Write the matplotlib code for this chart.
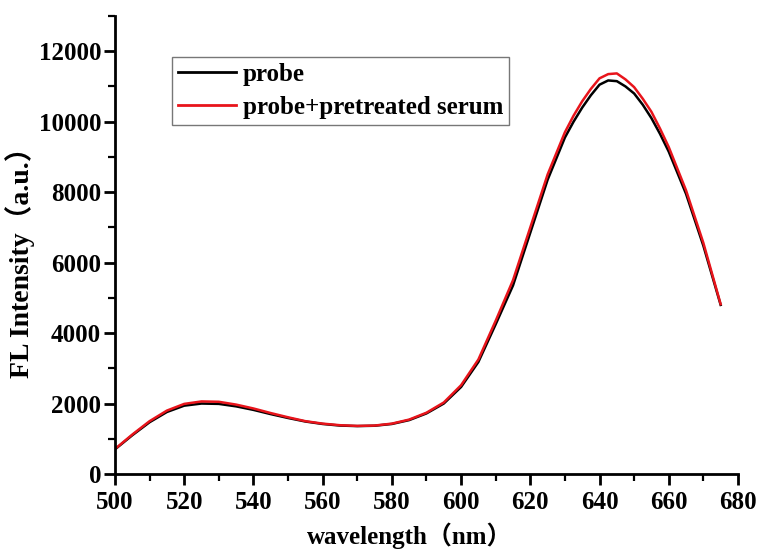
import matplotlib
matplotlib.use("Agg")
import matplotlib.pyplot as plt
from matplotlib.ticker import MultipleLocator

# Fluorescence emission spectra
wavelength = [500, 505, 510, 515, 520, 525, 530, 535, 540, 545, 550, 555, 560,
              565, 570, 575, 580, 585, 590, 595, 600, 605, 610, 615, 620, 625,
              630, 632.5, 635, 637.5, 640, 642.5, 645, 647.5, 650, 652.5, 655,
              657.5, 660, 665, 670, 675]
probe = [700, 1100, 1470, 1760, 1940, 2000, 1990, 1920, 1820, 1700, 1590, 1490,
         1420, 1375, 1360, 1370, 1420, 1530, 1720, 2000, 2470, 3180, 4250, 5350,
         6850, 8350, 9550, 10000, 10400, 10750, 11050, 11170, 11150, 11000,
         10800, 10480, 10100, 9650, 9150, 7950, 6480, 4800]
probe_serum = [710, 1120, 1500, 1800, 1990, 2060, 2050, 1970, 1860, 1730, 1610,
               1500, 1430, 1385, 1365, 1375, 1430, 1545, 1740, 2030, 2520, 3250,
               4350, 5500, 7000, 8500, 9700, 10170, 10580, 10930, 11230, 11350,
               11370, 11200, 10980, 10650, 10280, 9800, 9280, 8050, 6560, 4820]

series_labels = ["probe", "probe+pretreated serum"]
series_colors = ["black", "#e8141b"]

fam = ["Liberation Serif", "Noto Sans CJK SC"]
plt.rcParams["font.family"] = fam
plt.rcParams["font.weight"] = "bold"

fig = plt.figure(figsize=(7.6, 5.49), dpi=100)
ax = fig.add_axes([0.1513, 0.1366, 0.8197, 0.8343])

ax.plot(wavelength, probe, color=series_colors[0], lw=1.8, label=series_labels[0])
ax.plot(wavelength, probe_serum, color=series_colors[1], lw=1.8, label=series_labels[1])

ax.set_xlim(500, 680)
ax.set_ylim(0, 13000)
ax.xaxis.set_major_locator(MultipleLocator(20))
ax.xaxis.set_minor_locator(MultipleLocator(10))
ax.yaxis.set_major_locator(MultipleLocator(2000))
ax.yaxis.set_minor_locator(MultipleLocator(1000))

for side in ("top", "right"):
    ax.spines[side].set_visible(False)
for side in ("left", "bottom"):
    ax.spines[side].set_linewidth(2)

ax.tick_params(which="major", direction="out", length=8, width=2, labelsize=18)
ax.tick_params(axis="y", which="major", pad=2)
ax.tick_params(axis="x", which="major", pad=4)
ax.tick_params(which="minor", direction="out", length=5, width=1.6)
for lab in ax.get_xticklabels() + ax.get_yticklabels():
    lab.set_fontweight("bold")

ax.set_xlabel("wavelength（nm）", fontsize=18, fontweight="bold")
ax.set_ylabel("FL Intensity（a.u.）", fontsize=20, fontweight="bold")
ax.xaxis.set_label_coords(0.4735, -0.105)
ax.yaxis.set_label_coords(-0.128, 0.476)

leg = ax.legend(loc="upper left", bbox_to_anchor=(0.226, 0.897),
                bbox_transform=fig.transFigure, frameon=True, fancybox=False,
                prop={"family": fam, "weight": "bold", "size": 18},
                handlelength=2.3, handletextpad=0.28, borderpad=0.25,
                labelspacing=0.4, borderaxespad=0)
leg.get_frame().set_edgecolor("#555555")
leg.get_frame().set_linewidth(1.0)
for line in leg.get_lines():
    line.set_linewidth(2)

fig.savefig("out.png", dpi=100)
